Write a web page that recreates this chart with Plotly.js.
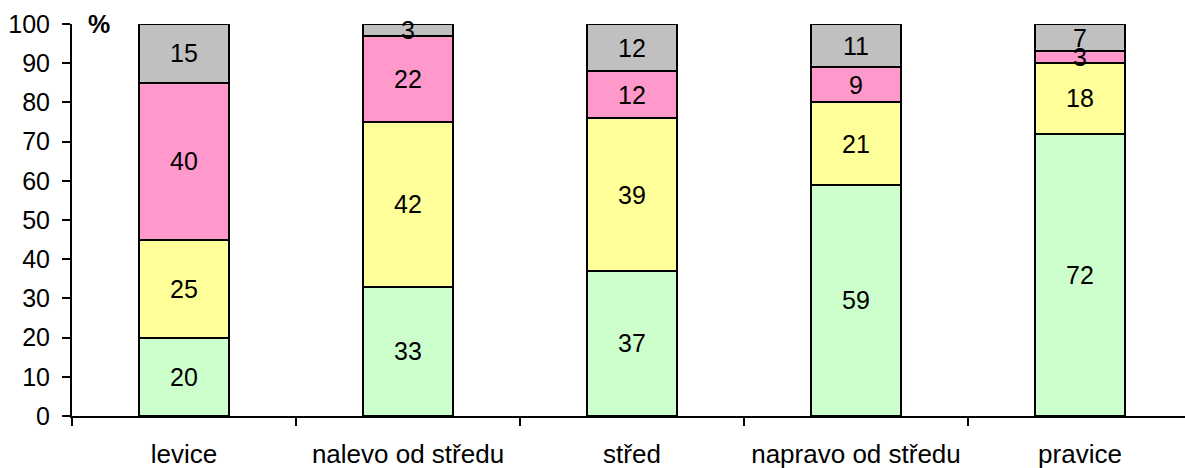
<!DOCTYPE html>
<html><head><meta charset="utf-8">
<script src="https://cdn.plot.ly/plotly-3.0.1.min.js"></script>
<style>html,body{margin:0;padding:0;overflow:hidden;background:#fff}</style>
</head><body><div id="chart"></div>
<script>
const categories = ["levice", "nalevo od středu", "střed", "napravo od středu", "pravice"];
const seriesA = [20, 33, 37, 59, 72];
const seriesB = [25, 42, 39, 21, 18];
const seriesC = [40, 22, 12, 9, 3];
const seriesD = [15, 3, 12, 11, 7];
const yTicks = [0, 10, 20, 30, 40, 50, 60, 70, 80, 90, 100];

const series = [seriesA, seriesB, seriesC, seriesD];
const colors = ["#CCFFCC", "#FFFF99", "#FF99CC", "#C0C0C0"];
const font = "Liberation Sans, Arial, sans-serif";

const traces = series.map((vals, i) => ({
  type: "bar", x: categories, y: vals, width: 0.4,
  marker: {color: colors[i], line: {color: "#000", width: 2}},
  hoverinfo: "none", showlegend: false
}));

const annotations = [];
categories.forEach((c, j) => {
  let base = 0;
  series.forEach(vals => {
    annotations.push({x: c, y: base + vals[j] / 2, xref: "x", yref: "y", text: String(vals[j]),
      showarrow: false, font: {family: font, size: 25, color: "#000"}});
    base += vals[j];
  });
});
annotations.push({xref: "paper", yref: "paper", x: 0.024, y: 1.0, xanchor: "center", yanchor: "middle",
  text: "<b>%</b>", showarrow: false, font: {family: font, size: 25, color: "#000"}});

Plotly.newPlot("chart", traces, {
  width: 1193, height: 468,
  margin: {l: 72, r: 1, t: 24, b: 52},
  barmode: "stack",
  paper_bgcolor: "#fff", plot_bgcolor: "#fff",
  font: {family: font, size: 25, color: "#000"},
  xaxis: {type: "category", tickson: "boundaries", ticks: "outside", ticklen: 8, tickwidth: 2, tickcolor: "#000",
    showline: true, linecolor: "#000", linewidth: 2, showgrid: false, zeroline: false,
    ticklabelstandoff: 14, tickfont: {family: font, size: 26}, range: [-0.5, 4.5]},
  yaxis: {range: [0, 100], tickvals: yTicks, ticks: "outside", ticklen: 8, tickwidth: 2, tickcolor: "#000",
    showline: true, linecolor: "#000", linewidth: 2, showgrid: false, zeroline: false,
    tickfont: {family: font, size: 25}, ticklabelstandoff: 7},
  annotations: annotations
}, {staticPlot: true});
</script></body></html>
